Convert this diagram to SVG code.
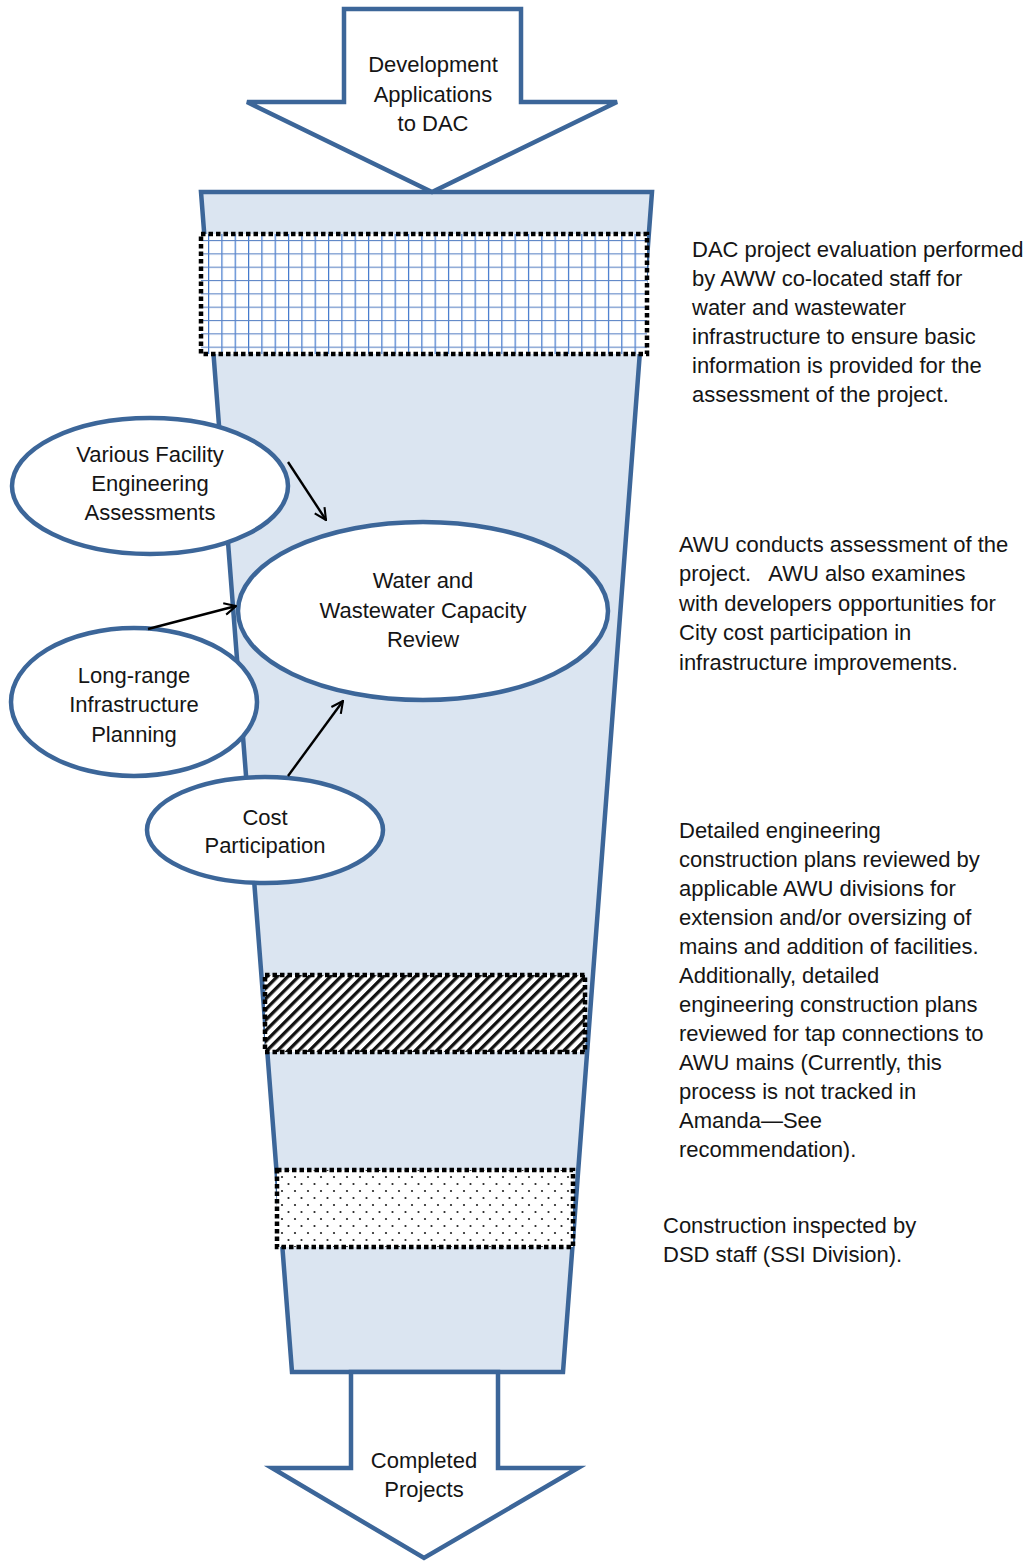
<svg xmlns="http://www.w3.org/2000/svg" width="1034" height="1562" viewBox="0 0 1034 1562">
  <style>
    .shape { stroke: #3c6699; stroke-width: 4.5; stroke-linejoin: miter; }
    .node { fill: #ffffff; stroke: #3c6699; stroke-width: 4.5; }
    .band-edge { fill: none; stroke: #000000; stroke-width: 4.5; stroke-dasharray: 4.5 3; }
    .label { font-family: "Liberation Sans", Arial, sans-serif; font-size: 22px; fill: #151515; text-anchor: middle; }
    .note { font-family: "Liberation Sans", Arial, sans-serif; font-size: 22px; fill: #151515; }
    .link { stroke: #000000; stroke-width: 2.4; fill: none; marker-end: url(#open-arrow); }
  </style>
  <defs>
    <marker id="open-arrow" viewBox="0 0 12 12" refX="11" refY="6" markerWidth="14" markerHeight="14" markerUnits="userSpaceOnUse" orient="auto">
      <path d="M1,1 L11,6 L1,11" fill="none" stroke="#000000" stroke-width="1.8"/>
    </marker>
    <!-- fine blue grid -->
    <pattern id="grid" patternUnits="userSpaceOnUse" x="208" y="240" width="13.33" height="13.33">
      <rect width="13.33" height="13.33" fill="#ffffff"/>
      <path d="M0,0 V13.33" stroke="#3f76cc" stroke-width="2.4"/>
      <path d="M0,0 H13.33" stroke="#5f86c6" stroke-width="2.2"/>
    </pattern>
    <!-- wide diagonal hatch -->
    <pattern id="hatch" patternUnits="userSpaceOnUse" width="7.5" height="7.5" patternTransform="rotate(45)">
      <rect width="7.5" height="7.5" fill="#ffffff"/>
      <rect x="0" y="0" width="3.3" height="7.5" fill="#111111"/>
    </pattern>
    <!-- sparse dot fill -->
    <pattern id="dots" patternUnits="userSpaceOnUse" x="280" y="1175" width="13" height="14">
      <rect width="13" height="14" fill="#ffffff"/>
      <circle cx="2" cy="2" r="1.1" fill="#222222"/>
      <circle cx="8.5" cy="9" r="1.1" fill="#222222"/>
    </pattern>
  </defs>

  <!-- funnel body -->
  <g id="funnel">
    <polygon class="shape" fill="#dbe5f1" points="201,192 652,192 563,1372 292,1372"/>
  </g>

  <!-- review stages inside the funnel -->
  <g id="stage-dac">
    <rect x="201" y="234" width="446" height="120" fill="url(#grid)"/>
    <rect class="band-edge" x="201" y="234" width="446" height="120"/>
  </g>
  <g id="stage-plans">
    <rect x="265" y="975" width="320" height="77" fill="url(#hatch)"/>
    <rect class="band-edge" x="265" y="975" width="320" height="77"/>
  </g>
  <g id="stage-inspection">
    <rect x="277" y="1170" width="296" height="77" fill="url(#dots)"/>
    <rect class="band-edge" x="277" y="1170" width="296" height="77"/>
  </g>

  <!-- input and output arrows -->
  <g id="input-arrow">
    <polygon class="shape" fill="#ffffff" points="344,9 521,9 521,102 617,102 432,192 247,102 344,102"/>
    <text class="label" x="433" y="72">Development</text>
    <text class="label" x="433" y="102">Applications</text>
    <text class="label" x="433" y="131">to DAC</text>
  </g>
  <g id="output-arrow">
    <polygon class="shape" fill="#ffffff" points="351,1372 498,1372 498,1468 578,1468 424,1558 272,1468 351,1468"/>
    <text class="label" x="424" y="1468">Completed</text>
    <text class="label" x="424" y="1497">Projects</text>
  </g>

  <!-- inputs to the capacity review -->
  <g id="node-facility">
    <ellipse class="node" cx="150" cy="486" rx="138" ry="68"/>
    <text class="label" x="150" y="462">Various Facility</text>
    <text class="label" x="150" y="491">Engineering</text>
    <text class="label" x="150" y="520">Assessments</text>
  </g>
  <g id="node-capacity">
    <ellipse class="node" cx="423" cy="611" rx="185" ry="89"/>
    <text class="label" x="423" y="588">Water and</text>
    <text class="label" x="423" y="618">Wastewater Capacity</text>
    <text class="label" x="423" y="647">Review</text>
  </g>
  <g id="node-planning">
    <ellipse class="node" cx="134" cy="702" rx="123" ry="74"/>
    <text class="label" x="134" y="683">Long-range</text>
    <text class="label" x="134" y="712">Infrastructure</text>
    <text class="label" x="134" y="742">Planning</text>
  </g>
  <g id="node-cost">
    <ellipse class="node" cx="265" cy="830" rx="118" ry="53"/>
    <text class="label" x="265" y="825">Cost</text>
    <text class="label" x="265" y="853">Participation</text>
  </g>

  <g id="connectors">
    <line class="link" x1="288" y1="462" x2="326" y2="520"/>
    <line class="link" x1="148" y1="629" x2="236" y2="606"/>
    <line class="link" x1="288" y1="776" x2="343" y2="701"/>
  </g>

  <!-- side notes -->
  <g id="note-dac">
    <text class="note" x="692" y="257">DAC project evaluation performed</text>
    <text class="note" x="692" y="286">by AWW co-located staff for</text>
    <text class="note" x="692" y="315">water and wastewater</text>
    <text class="note" x="692" y="344">infrastructure to ensure basic</text>
    <text class="note" x="692" y="373">information is provided for the</text>
    <text class="note" x="692" y="402">assessment of the project.</text>
  </g>
  <g id="note-awu">
    <text class="note" x="679" y="552">AWU conducts assessment of the</text>
    <text class="note" x="679" y="581" xml:space="preserve">project.   AWU also examines</text>
    <text class="note" x="679" y="611">with developers opportunities for</text>
    <text class="note" x="679" y="640">City cost participation in</text>
    <text class="note" x="679" y="670">infrastructure improvements.</text>
  </g>
  <g id="note-plans">
    <text class="note" x="679" y="838">Detailed engineering</text>
    <text class="note" x="679" y="867">construction plans reviewed by</text>
    <text class="note" x="679" y="896">applicable AWU divisions for</text>
    <text class="note" x="679" y="925">extension and/or oversizing of</text>
    <text class="note" x="679" y="954">mains and addition of facilities.</text>
    <text class="note" x="679" y="983">Additionally, detailed</text>
    <text class="note" x="679" y="1012">engineering construction plans</text>
    <text class="note" x="679" y="1041">reviewed for tap connections to</text>
    <text class="note" x="679" y="1070">AWU mains (Currently, this</text>
    <text class="note" x="679" y="1099">process is not tracked in</text>
    <text class="note" x="679" y="1128">Amanda—See</text>
    <text class="note" x="679" y="1157">recommendation).</text>
  </g>
  <g id="note-inspection">
    <text class="note" x="663" y="1233">Construction inspected by</text>
    <text class="note" x="663" y="1262">DSD staff (SSI Division).</text>
  </g>
</svg>
